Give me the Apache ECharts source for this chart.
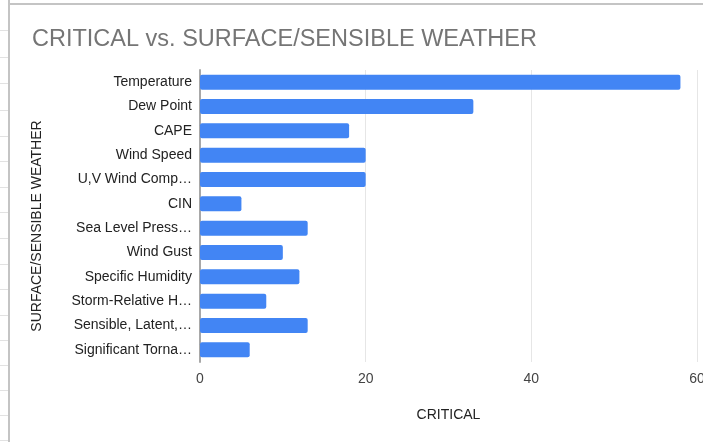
<!DOCTYPE html>
<html>
<head>
<meta charset="utf-8">
<script src="https://cdn.jsdelivr.net/npm/echarts@6/dist/echarts.min.js"></script>
<style>
html,body{margin:0;padding:0;background:#fff;overflow:hidden;}
#chart{width:703px;height:442px;}
</style>
</head>
<body>
<div id="chart"></div>
<script>
const categories = [
  "Temperature",
  "Dew Point",
  "CAPE",
  "Wind Speed",
  "U,V Wind Comp…",
  "CIN",
  "Sea Level Press…",
  "Wind Gust",
  "Specific Humidity",
  "Storm-Relative H…",
  "Sensible, Latent,…",
  "Significant Torna…"
];
const critical = [58, 33, 18, 20, 20, 5, 13, 10, 12, 8, 13, 6];
const xTicks = { min: 0, max: 60, interval: 20 };
const titleText = "CRITICAL vs. SURFACE/SENSIBLE WEATHER";
const xName = "CRITICAL";
const yName = "SURFACE/SENSIBLE WEATHER";

const font = "'Liberation Sans', Arial, sans-serif";
const sheetRows = [30, 57, 83, 110, 136, 161, 187, 212, 238, 264, 289, 315, 340, 365, 390, 415, 440];
const deco = [
  { type: 'line', shape: { x1: 9, y1: 0, x2: 9, y2: 442 }, style: { stroke: '#c4c4c4', lineWidth: 2 }, z: 10 },
  { type: 'line', shape: { x1: 9, y1: 4, x2: 703, y2: 4 }, style: { stroke: '#c4c4c4', lineWidth: 2 }, z: 10 }
].concat(sheetRows.map(y => ({
  type: 'line', shape: { x1: 0, y1: y + 0.5, x2: 8, y2: y + 0.5 }, style: { stroke: '#e2e2e2', lineWidth: 1 }
})));

const chart = echarts.init(document.getElementById('chart'), null, { renderer: 'canvas' });
chart.setOption({
  animation: false,
  backgroundColor: '#fff',
  graphic: deco,
  title: {
    text: titleText,
    left: 27,
    top: 23,
    textStyle: { fontFamily: font, fontSize: 23.5, fontWeight: 'normal', color: '#757575' }
  },
  grid: { left: 200, right: 6, top: 70, bottom: 80, containLabel: false, outerBoundsMode: 'none' },
  xAxis: {
    type: 'value',
    min: xTicks.min,
    max: xTicks.max,
    interval: xTicks.interval,
    name: xName,
    nameLocation: 'middle',
    nameGap: 46,
    nameTextStyle: { fontFamily: font, fontSize: 14, color: '#222' },
    axisLine: { show: false },
    axisTick: { show: false },
    axisLabel: { fontFamily: font, fontSize: 14, color: '#444', margin: 10 },
    splitLine: { show: true, lineStyle: { color: '#e6e6e6', width: 1 } }
  },
  yAxis: {
    type: 'category',
    data: categories,
    inverse: true,
    name: yName,
    nameLocation: 'middle',
    nameGap: 156,
    nameTextStyle: { fontFamily: font, fontSize: 14, color: '#222', padding: [0, 20, 0, 0] },
    axisLine: { show: true, lineStyle: { color: '#a8a8a8', width: 2 } },
    axisTick: { show: false },
    axisLabel: { fontFamily: font, fontSize: 14, color: '#222', margin: 8 }
  },
  series: [{
    type: 'bar',
    data: critical,
    barWidth: 15,
    itemStyle: { color: '#4285F4', borderRadius: 2 }
  }]
});
</script>
</body>
</html>
